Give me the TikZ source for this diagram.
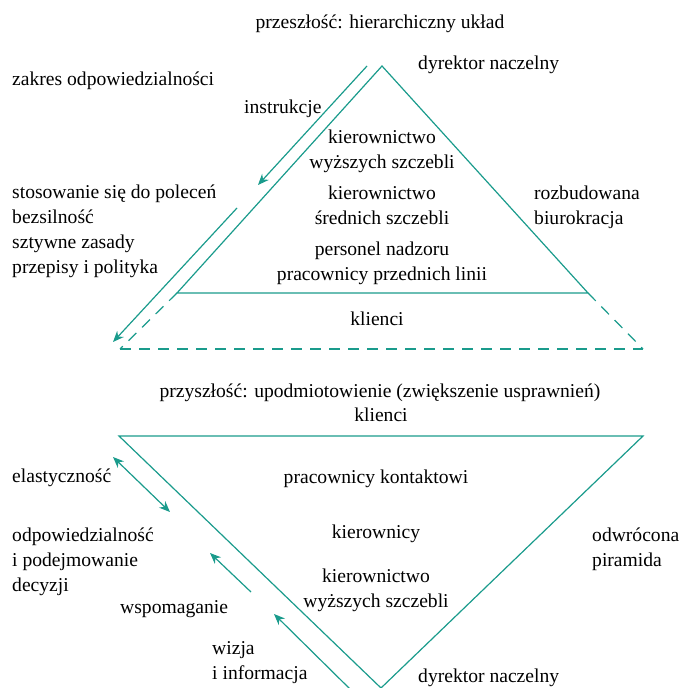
\documentclass[tikz,border=0pt]{standalone}
\usepackage{fontspec}
\setmainfont{Liberation Serif}
\usetikzlibrary{arrows.meta}
\definecolor{pyr}{RGB}{26,155,140}
\begin{document}
\begin{tikzpicture}[x=1pt,y=-1pt,
  edge/.style={draw=pyr,line width=1.2pt},
  dashedge/.style={edge,dash pattern=on 11pt off 8pt},
  tip/.tip={Stealth[length=11pt,width=9pt,inset=3.5pt]},
  flow/.style={edge,-tip},
  twoway/.style={edge,tip-tip},
  lbl/.style={inner sep=0pt,font=\fontsize{19.6}{25}\selectfont,text=black},
  % multi-line labels are placed by the baseline of their last line
  lw/.style={lbl,anchor=base west,align=left},
  lc/.style={lbl,anchor=base,align=center}]
\useasboundingbox (0,0) rectangle (683,688);

% ---------- hierarchical pyramid ----------
\coordinate (apex) at (382,66);
\coordinate (bl) at (177,293);
\coordinate (br) at (588,293);
\coordinate (cl) at (120,349);
\coordinate (cr) at (643,349);
\draw[edge] (bl) -- (apex) -- (br) -- cycle;
\draw[dashedge] (bl) -- (cl);
\draw[dashedge] (br) -- (cr);
\draw[dashedge] (cl) -- (cr);

\coordinate (i1) at (367,66);
\coordinate (i2) at (258,185);
\draw[flow] (i1) -- (i2);
\coordinate (o1) at (237,208);
\coordinate (o2) at (113,342);
\draw[flow] (o1) -- (o2);

\node[lc] (past) at (380,28) {przeszłość: hierarchiczny układ};
\node[lw] (scope) at (12,85) {zakres odpowiedzialności};
\node[lw] (ceo1) at (418,69) {dyrektor naczelny};
\node[lw] (instr) at (244,113) {instrukcje};
\node[lc] (top1) at (382,168) {kierownictwo\\wyższych szczebli};
\node[lc] (mid1) at (382,224) {kierownictwo\\średnich szczebli};
\node[lc] (low1) at (382,280) {personel nadzoru\\pracownicy przednich linii};
\node[lc] (cust1) at (377,325) {klienci};
\node[lw] (bureau) at (534,224) {rozbudowana\\biurokracja};
\node[lw] (traits1) at (12,273) {stosowanie się do poleceń\\bezsilność\\sztywne zasady\\przepisy i polityka};

% ---------- inverted pyramid ----------
\coordinate (tl) at (119,436);
\coordinate (tr) at (643,436);
\coordinate (bot) at (381,688);
\draw[edge] (tl) -- (tr) -- (bot) -- cycle;

\coordinate (e1) at (113,457);
\coordinate (e2) at (170,512);
\draw[twoway] (e1) -- (e2);
\coordinate (s1) at (251,592);
\coordinate (s2) at (210,553);
\draw[flow] (s1) -- (s2);
\coordinate (w1) at (351,690);
\coordinate (w2) at (274,614);
\draw[flow] (w1) -- (w2);

\node[lc] (future) at (380,397) {przyszłość: upodmiotowienie (zwiększenie usprawnień)};
\node[lc] (cust2) at (381,421) {klienci};
\node[lc] (front2) at (376,483) {pracownicy kontaktowi};
\node[lc] (mgr2) at (376,538) {kierownicy};
\node[lc] (top2) at (376,607) {kierownictwo\\wyższych szczebli};
\node[lw] (inv) at (592,566) {odwrócona\\piramida};
\node[lw] (flex) at (12,482) {elastyczność};
\node[lw] (resp) at (12,591) {odpowiedzialność\\i podejmowanie\\decyzji};
\node[lw] (support) at (120,613) {wspomaganie};
\node[lw] (vision) at (212,679) {wizja\\i informacja};
\node[lw] (ceo2) at (418,682) {dyrektor naczelny};
\end{tikzpicture}
\end{document}
